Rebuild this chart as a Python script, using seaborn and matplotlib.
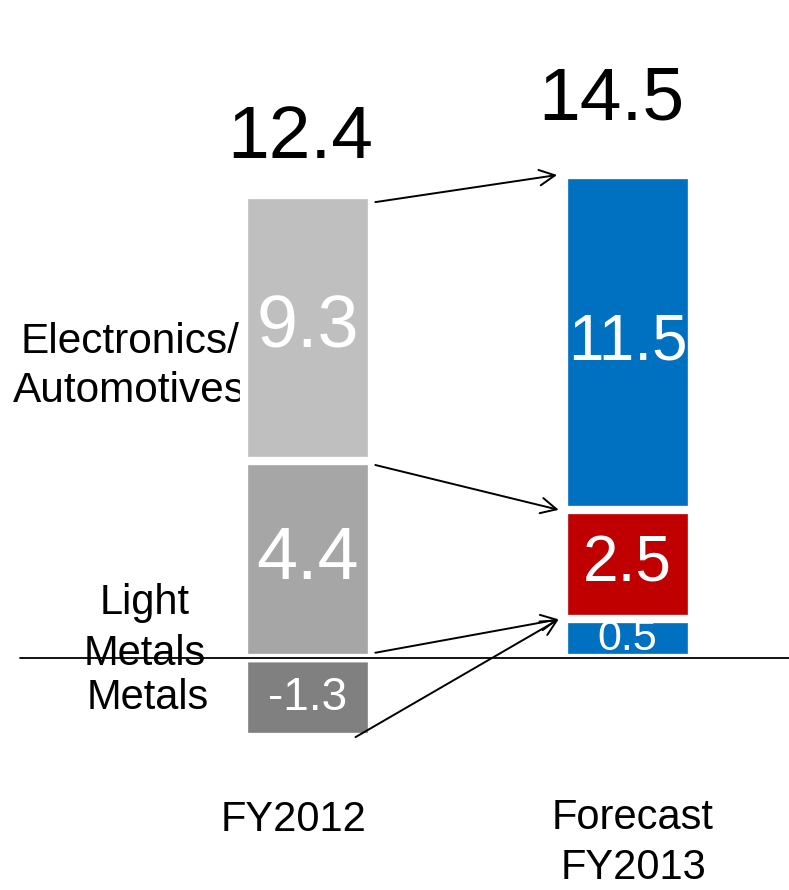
import matplotlib
matplotlib.use("Agg")
import matplotlib.pyplot as plt
import seaborn as sns
import pandas as pd
import numpy as np

# ---------------- data ----------------
periods = ["FY2012", "Forecast\nFY2013"]
segments = ["Metals", "Light Metals", "Electronics/Automotives"]
fy2012_values = [-1.3, 4.4, 9.3]
fy2013_values = [0.5, 2.5, 11.5]
totals = [12.4, 14.5]
segment_names_left = ["Metals", "Light\nMetals", "Electronics/\nAutomotives"]

# ---------------- style ----------------
fy2012_colors = ["#808080", "#A6A6A6", "#BFBFBF"]
fy2013_colors = ["#0070C0", "#C00000", "#0070C0"]
fy2012_label_sizes = [33, 53, 53]
fy2013_label_sizes = [31, 46, 46]

sns.set_theme(style="white")
plt.rcParams["font.family"] = ["Liberation Sans", "DejaVu Sans"]

rows = []
for p, vals, cols, sizes in [(periods[0], fy2012_values, fy2012_colors, fy2012_label_sizes),
                             (periods[1], fy2013_values, fy2013_colors, fy2013_label_sizes)]:
    base_pos, base_neg = 0.0, 0.0
    for s, v, c, fs in zip(segments, vals, cols, sizes):
        if v >= 0:
            bottom, top = base_pos, base_pos + v
            base_pos = top
        else:
            bottom, top = base_neg, base_neg + v
            base_neg = top
        rows.append(dict(period=p, segment=s, value=v, bottom=bottom, top=top, color=c, fs=fs))
df = pd.DataFrame(rows)

# the reference's segments are not drawn to a linear scale; a gentle power scale matches it
POW = 0.75
def fwd(v):
    v = np.asarray(v, dtype=float)
    return np.sign(v) * np.abs(v) ** POW
def inv(u):
    u = np.asarray(u, dtype=float)
    return np.sign(u) * np.abs(u) ** (1 / POW)
def vis_mid(a, b):
    return float(inv((fwd(a) + fwd(b)) / 2))

W_PX, H_PX, DPI = 789, 890, 100
fig = plt.figure(figsize=(W_PX / DPI, H_PX / DPI), dpi=DPI)
ax = fig.add_axes([0, 0, 1, 1])

BAR_W = 0.40
LW = 6.0

# negatives first, then positives from tallest cumulative down (overlay stacking)
neg = df[df.value < 0]
pos = df[df.value >= 0].sort_values("top", ascending=False)
for _, r in pd.concat([neg, pos]).iterrows():
    sns.barplot(x=[r.period], y=[r.top], order=periods, color=r.color, saturation=1,
                width=BAR_W, edgecolor="white", linewidth=LW, ax=ax, zorder=2)

ax.set_yscale("function", functions=(fwd, inv))

# zero line
ax.axhline(0, xmin=20 / W_PX, xmax=1, color="black", lw=1.3, zorder=5)

# segment value labels
for _, r in df.iterrows():
    xi = periods.index(r.period)
    ax.text(xi, vis_mid(r.bottom, r.top), f"{r.value:.1f}", color="white",
            fontsize=r.fs, ha="center", va="center", zorder=6)

# totals
total_dx = [-5, -12]
total_dy = [27, 40]
for xi, (p, t) in enumerate(zip(periods, totals)):
    top = df[(df.period == p) & (df.value >= 0)].top.max()
    ax.annotate(f"{t:.1f}", xy=(xi, top), xytext=(total_dx[xi], total_dy[xi]),
                textcoords="offset points", ha="center", va="baseline",
                fontsize=54, color="black")

# segment names on the left
d12 = df[df.period == periods[0]].reset_index(drop=True)
d13 = df[df.period == periods[1]].reset_index(drop=True)
ax.text(-0.50, vis_mid(d12.bottom[0], d12.top[0]), segment_names_left[0], fontsize=30,
        ha="center", va="center", color="black", zorder=1)
ax.text(-0.51, vis_mid(0, d12.top[1] * 0.2), segment_names_left[1], fontsize=30,
        ha="center", va="center", color="black", linespacing=1.35, zorder=1)
ax.annotate(segment_names_left[2], xy=(-0.555, vis_mid(d12.bottom[2], d12.top[2])),
            xytext=(0, -28), textcoords="offset points", fontsize=30.5,
            ha="center", va="center", color="black", linespacing=1.3, zorder=1)

# category labels (below the bars)
cat_pos = [(294, 820), (633, 843)]
for p, (px, py) in zip(periods, cat_pos):
    fig.text(px / W_PX, 1 - py / H_PX, p, fontsize=30, ha="center", va="center",
             color="black", linespacing=1.3)

# arrows between segments
half = BAR_W / 2
arrow_kw = dict(arrowstyle="->", lw=1.4, color="black", mutation_scale=28,
                shrinkA=0, shrinkB=0)
pairs = [
    ((half + 0.012, vis_mid(d12.top[2], d12.top[2] * 0.96)), (1 - half - 0.02, d13.top[2])),
    ((half + 0.012, vis_mid(d12.top[1], d12.top[1] * 0.94)), (1 - half - 0.015, d13.top[1])),
    ((half + 0.012, vis_mid(0, d12.top[1] * 0.02)), (1 - half - 0.015, d13.top[0])),
    ((half - 0.05, d12.top[0]), (1 - half - 0.015, d13.top[0])),
]
for (x0, y0), (x1, y1) in pairs:
    ax.annotate("", xy=(x1, y1), xytext=(x0, y0), arrowprops=arrow_kw, zorder=4)

# axes: data -> pixel mapping
K = 65.0       # px per transformed unit
ZERO_Y = 658
ax.set_ylim(float(inv(-(H_PX - ZERO_Y) / K)), float(inv(ZERO_Y / K)))
ax.set_xlim(-307.5 / 320, (W_PX - 307.5) / 320)
ax.axis("off")

fig.savefig("out.png", dpi=DPI)
